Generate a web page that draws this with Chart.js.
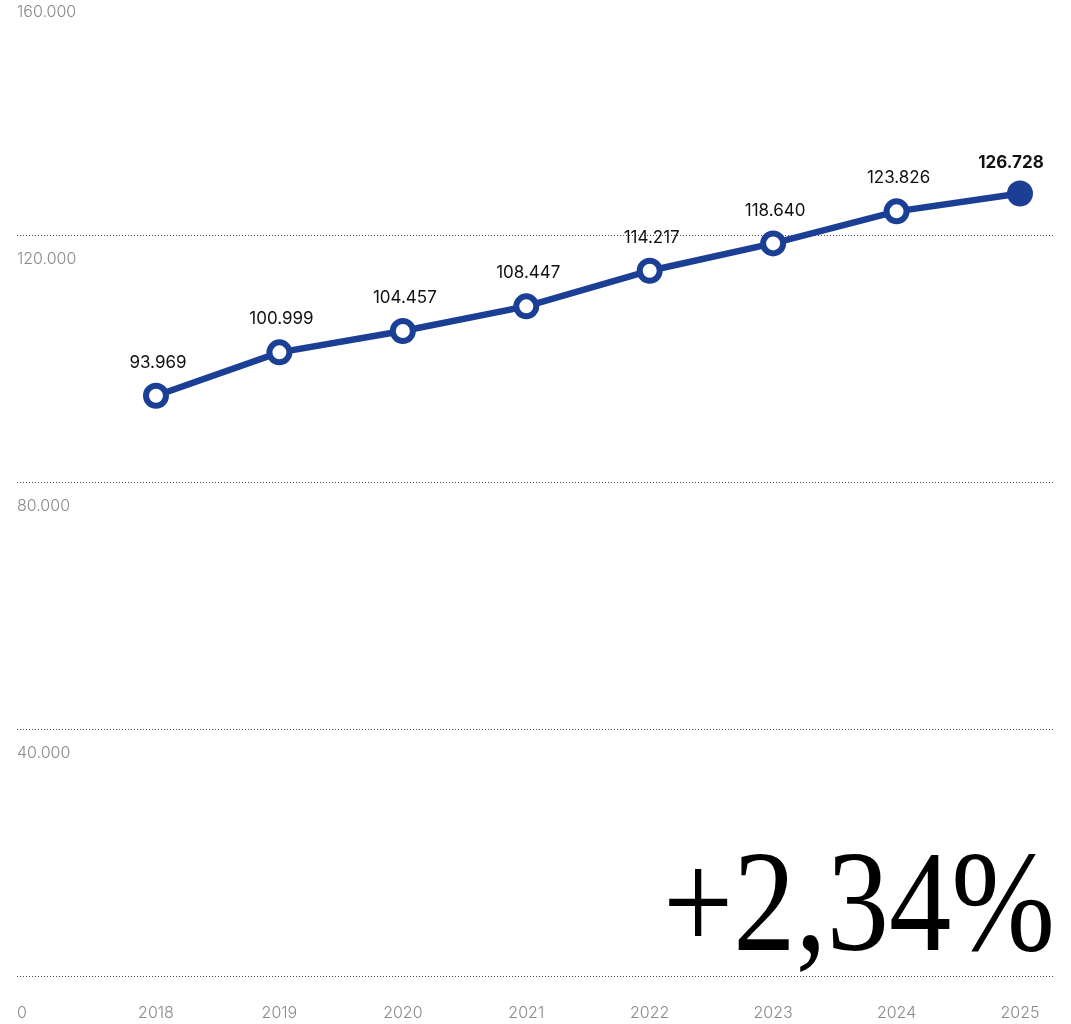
<!DOCTYPE html>
<html>
<head>
<meta charset="utf-8">
<script src="https://cdn.jsdelivr.net/npm/chart.js@4.4.0/dist/chart.umd.min.js"></script>
<style>
  html, body { margin: 0; padding: 0; background: #fff; }
  #wrap { position: relative; width: 1071px; height: 1024px; overflow: hidden; }
  #myChart { position: absolute; left: 0; top: -20px; }
</style>
</head>
<body>
<div id="wrap"><canvas id="myChart" width="1071" height="1044"></canvas></div>
<script>
// Daten
const years = [2018, 2019, 2020, 2021, 2022, 2023, 2024, 2025];
const visitors = [93969, 100999, 104457, 108447, 114217, 118640, 123826, 126728];
const yTicks = [0, 40000, 80000, 120000, 160000];
const growthLabel = "+2,34%";

const blau = '#1b3f95';

// 126728 -> "126.728"
function punkt(v) {
    return String(v).replace(/\B(?=(\d{3})+(?!\d))/g, '.');
}

/*werte über den punkten*/
const wertLabels = {
    id: 'wertLabels',
    afterDatasetsDraw(chart) {
        const ctx = chart.ctx;
        const meta = chart.getDatasetMeta(0);
        ctx.save();
        ctx.textAlign = 'center';
        ctx.textBaseline = 'middle';
        ctx.fillStyle = '#111';
        meta.data.forEach((pt, i) => {
            const last = i === meta.data.length - 1;
            ctx.font = (last ? '700 ' : '400 ') + '17px Inter';
            ctx.fillText(punkt(visitors[i]), pt.x + (last ? -9 : 2), pt.y - (last ? 31 : 33));
        });
        ctx.restore();
    }
};

/*große prozentzahl unten rechts*/
const wachstum = {
    id: 'wachstum',
    afterDraw(chart) {
        const {ctx, chartArea} = chart;
        ctx.save();
        ctx.font = '143px "Liberation Serif"';
        ctx.fillStyle = '#000';
        ctx.textBaseline = 'alphabetic';
        const w = ctx.measureText(growthLabel).width;
        const ziel = 392;
        ctx.translate(chartArea.right + 1 - ziel, chartArea.bottom - 26);
        ctx.scale(ziel / w, 1);
        ctx.fillText(growthLabel, 0, 0);
        ctx.restore();
    }
};

Chart.defaults.font.family = 'Inter';

const config = {
    type: 'line',
    data: {
        datasets: [{
            label: 'Besucher',
            data: years.map((y, i) => ({x: y, y: visitors[i]})),
            borderColor: blau,
            borderWidth: 6.5,
            pointRadius: 10,
            pointBorderWidth: 6,
            pointBorderColor: blau,
            pointBackgroundColor: visitors.map((v, i) => i === visitors.length - 1 ? blau : '#fff'),
            tension: 0,
            clip: false
        }]
    },
    options: {
        responsive: false,
        animation: false,
        events: [],
        layout: { autoPadding: false, padding: { left: 17, right: 17, top: 8, bottom: 0 } },
        plugins: { legend: { display: false }, tooltip: { enabled: false } },
        scales: {
            x: {
                type: 'linear',
                min: 2016.874,
                max: 2025.2755,
                grid: { display: false, drawTicks: false },
                border: { display: false },
                afterBuildTicks: s => { s.ticks = years.map(v => ({value: v})); },
                afterFit: s => { s.height = 48; s.paddingLeft = 0; s.paddingRight = 0; },
                ticks: {
                    color: '#8a8a8a',
                    font: { size: 16, weight: 300 },
                    padding: 28,
                    maxRotation: 0,
                    autoSkip: false,
                    callback: v => String(v)
                }
            },
            y: {
                min: 0,
                max: 160000,
                grid: { color: '#444', lineWidth: 1, drawTicks: false },
                border: { display: false, dash: [1, 2] },
                afterBuildTicks: s => { s.ticks = yTicks.map(v => ({value: v})); },
                afterFit: s => { s.width = 0; s.paddingTop = 0; s.paddingBottom = 0; },
                ticks: {
                    mirror: true,
                    padding: 0,
                    labelOffset: 24,
                    color: '#8a8a8a',
                    font: { size: 16, weight: 300, lineHeight: 1.6 },
                    callback: v => v === 0 ? ['', '0'] : punkt(v)
                }
            }
        }
    },
    plugins: [wertLabels, wachstum]
};

window.onload = function () {
    new Chart(document.getElementById('myChart'), config);
};
</script>
</body>
</html>
